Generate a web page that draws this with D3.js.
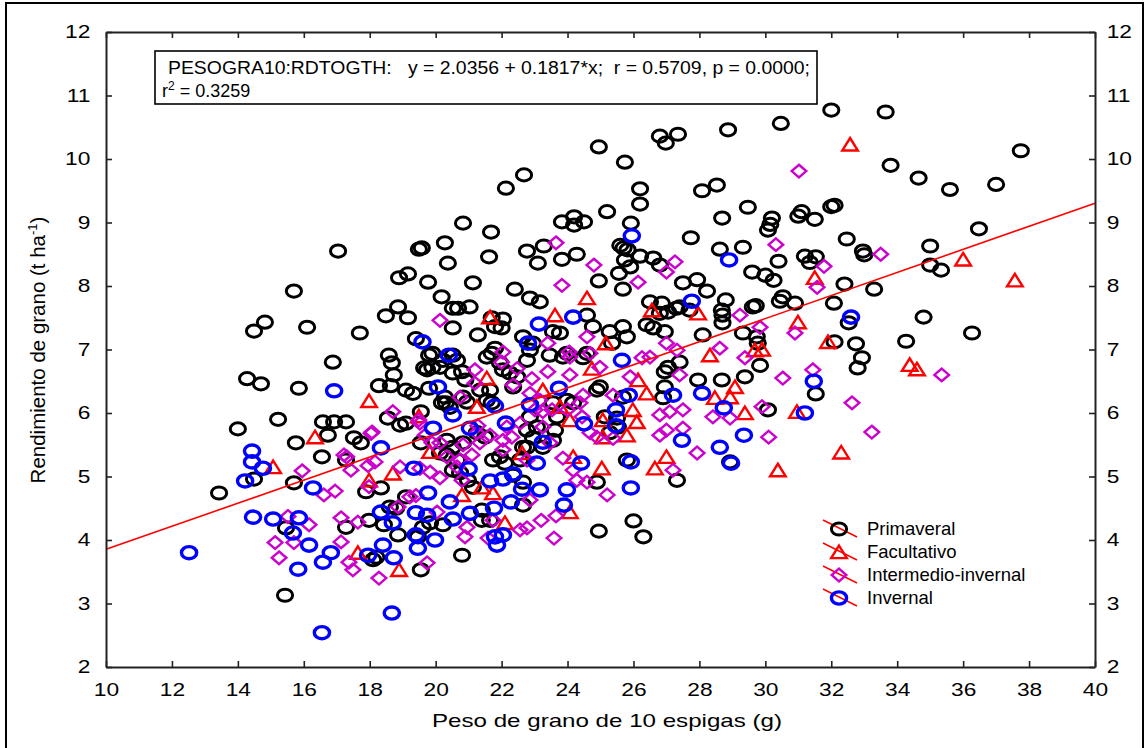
<!DOCTYPE html>
<html><head><meta charset="utf-8">
<script src="https://cdn.jsdelivr.net/npm/d3@7"></script>
<style>
body{margin:0;background:#fff}
svg{display:block}
text{font-family:"Liberation Sans",Arial,sans-serif;fill:#000}
</style>
</head><body>
<svg id="chart" width="1145" height="748"></svg>
<script>
// Peso de grano de 10 espigas (g) vs. rendimiento de grano (t/ha), por tipo de trigo
const primaveral = [
[32.0,10.77],[33.65,10.74],[30.47,10.56],[26.8,10.36],[27.35,10.39],[26.98,10.25],[28.87,10.46],[24.95,10.19],
[25.74,9.95],[37.75,10.13],[22.68,9.75],[22.13,9.54],[26.2,9.53],[26.2,9.29],[28.08,9.5],[28.53,9.59],[29.47,9.24],
[33.8,9.9],[34.65,9.7],[35.6,9.52],[37.0,9.6],[30.2,9.07],[30.15,8.97],[30.08,8.88],[31.0,9.1],[31.1,9.17],[31.5,9.05],
[32.0,9.25],[32.1,9.27],[32.47,8.74],[32.96,8.55],[33.0,8.49],[35.0,8.63],[35.0,8.33],[35.33,8.25],[36.48,8.9],
[31.2,8.47],[31.53,8.46],[31.35,8.37],[30.4,8.39],[29.6,8.22],[30.0,8.17],[30.25,8.09],[32.4,8.03],[33.3,7.95],
[30.53,7.83],[30.44,7.76],[30.9,7.73],[29.71,7.69],[32.08,7.73],[34.8,7.51],[36.27,7.26],[34.27,7.13],[32.53,7.42],
[32.1,7.12],[32.75,7.09],[32.93,6.87],[32.8,6.71],[29.74,7.2],[29.77,7.1],[29.84,6.75],[31.53,6.3],[30.08,6.05],
[20.83,8.99],[21.68,8.85],[20.28,8.68],[19.58,8.6],[23.83,9.01],[24.2,9.09],[24.2,8.96],[24.5,9.01],[25.2,9.17],
[25.92,8.99],[28.69,9.07],[27.74,8.76],[22.77,8.55],[23.28,8.63],[23.1,8.36],[23.83,8.42],[24.28,8.5],[21.62,8.46],
[20.37,8.36],[19.77,8.06],[21.13,8.05],[20.18,7.83],[20.52,7.65],[20.68,7.65],[21.03,7.67],[24.95,8.08],[22.4,7.95],
[22.86,7.81],[23.16,7.75],[25.6,8.64],[25.7,8.6],[25.82,8.57],[26.2,8.47],[26.6,8.44],[25.74,8.41],[25.9,8.3],
[25.56,8.2],[25.68,7.95],[26.8,8.33],[27.5,8.05],[27.93,8.1],[28.23,7.92],[28.62,8.58],[29.32,8.61],[28.8,7.78],
[28.68,7.62],[26.5,7.75],[26.86,7.73],[27.4,7.67],[22.04,7.48],
[17.04,8.55],[19.49,8.58],[18.89,8.13],[19.16,8.19],[15.7,7.92],[14.82,7.43],[14.49,7.29],[16.1,7.35],[17.7,7.26],
[18.49,7.53],[18.86,7.67],[19.16,7.5],[18.58,6.91],[18.67,6.79],[18.73,6.6],[18.28,6.43],[18.64,6.43],[19.1,6.36],
[19.31,6.31],[19.65,6.71],[19.8,6.91],[19.4,7.17],[16.88,6.8],[14.28,6.54],[14.7,6.46],[15.85,6.39],[15.22,5.9],
[16.58,5.86],[16.92,5.86],[17.28,5.86],[14.0,5.75],[18.55,5.92],[19.1,5.84],[19.55,6.02],[19.8,6.39],
[15.76,5.53],[16.55,5.31],[16.73,5.65],[17.52,5.61],[17.73,5.53],[19.55,5.53],[14.49,4.96],[13.43,4.74],[15.7,4.9],
[17.28,5.26],[17.89,4.76],[18.34,4.82],[19.1,4.68],[18.8,4.5],[17.98,4.31],[18.43,4.24],[17.28,4.2],[15.46,4.19],
[18.86,4.08],[18.1,3.69],[18.2,3.73],[19.55,3.53],[15.43,3.13],
[21.7,7.5],[21.8,7.36],[22.0,7.34],[20.52,7.34],[21.28,7.23],[22.65,7.2],[22.95,7.1],[23.56,7.28],[23.77,7.26],
[24.59,7.54],[24.77,7.36],[25.28,7.28],[25.68,7.36],[25.8,7.2],[25.35,7.1],[26.4,7.39],[26.6,7.34],[26.95,7.28],
[26.8,7.57],[27.05,7.59],[27.3,7.65],[27.7,7.62],[28.7,7.54],[28.7,7.42],[28.1,7.23],[29.32,7.26],[29.62,7.67],
[29.38,6.57],[28.68,6.52],[27.96,6.52],[27.4,6.8],[27.05,6.72],[26.95,6.65],[26.95,6.41],[26.9,6.24],[24.47,6.87],
[24.59,6.94],[23.86,6.88],[23.46,6.91],[22.86,6.99],[22.77,6.83],[21.8,7.02],[21.7,6.94],[21.65,6.36],[21.35,6.36],
[22.04,6.68],[22.25,6.63],[22.47,6.57],[20.8,6.65],[20.9,6.52],[20.13,6.72],[19.9,6.72],[19.74,6.68],[20.65,6.83],
[20.22,6.83],[19.9,6.94],[20.28,6.25],[20.19,6.16],[20.43,6.09],[20.83,6.25],[20.95,6.17],[21.55,6.2],[21.7,6.16],
[22.86,5.94],[23.07,5.78],[23.62,5.73],[23.56,5.57],[23.98,6.2],[24.17,6.16],[22.35,6.41],[24.98,6.41],[24.89,6.36],
[25.13,5.94],[25.5,5.92],[25.68,6.25],[25.53,5.78],[25.28,5.69],[22.56,5.26],[21.74,5.26],[21.95,5.31],[22.1,5.21],
[20.13,5.37],[20.34,5.34],[20.65,5.26],[22.65,5.46],[22.77,5.46],[25.8,5.26],[28.93,5.23],[27.32,4.94],[24.89,4.91],
[20.52,5.1],[20.74,5.06],[20.98,4.94],[22.35,5.02],[22.65,4.91],
[20.8,3.76],[24.95,4.14],[26.0,4.3],[26.3,4.05],[22.65,4.55],[21.4,4.47],[21.13,4.83],[20.22,4.24],
[20.52,6.91],[20.52,6.63],[20.31,6.16],[18.92,5.81],[20.34,5.57],[20.52,5.46],[20.83,5.53],[22.77,5.73],[22.95,5.61],
[23.25,5.46],[21.4,4.31],[21.65,4.31],[21.55,6.88],[21.95,6.79],[23.98,6.94],[19.46,4.05],[19.61,4.2],[19.83,4.27],
[18.61,4.52],[23.68,5.94],[23.56,6.16],[21.25,5.69],[21.5,5.62]
];

const facultativo = [
[32.57,10.23],[36.0,8.42],[37.57,8.09],[31.5,8.13],[30.99,7.43],[31.9,7.12],[29.9,7.0],[34.38,6.76],[34.6,6.69],
[30.96,6.02],[32.3,5.38],[30.38,5.1],[24.59,7.81],[26.56,7.62],[27.96,7.57],[21.65,7.51],[23.62,7.54],[25.16,7.1],
[28.32,6.91],[21.55,6.55],[24.74,6.7],[23.25,6.36],[23.77,6.1],[26.14,6.52],[26.4,6.31],[21.25,6.1],[29.08,6.41],
[28.93,6.25],[29.38,6.0],[28.47,6.24],[25.98,6.05],[26.1,5.86],[25.07,5.89],[25.07,5.62],[25.8,5.65],[24.07,5.89],
[19.83,5.39],[22.62,5.37],[24.17,5.31],[25.04,5.13],[26.65,5.13],[27.0,5.31],[21.4,4.83],[21.74,4.74],[29.68,6.99],
[17.98,6.19],[19.49,5.95],[16.34,5.62],[15.07,5.15],[17.98,4.94],[18.7,5.05],[17.64,3.8],[18.89,3.53],[20.8,4.71],
[22.1,4.27],[24.07,4.44]
];

const intermedioInvernal = [
[31.02,9.81],[30.32,8.65],[33.5,8.5],[31.78,8.31],[31.57,7.98],[29.84,7.35],[30.9,7.26],[35.35,6.6],[31.44,6.68],
[30.53,6.55],[32.63,6.16],[29.9,6.1],[33.23,5.7],[30.1,5.62],[23.65,8.68],[24.8,8.33],[23.83,8.01],[26.14,8.06],
[27.0,8.22],[27.26,8.38],[29.23,7.54],[20.13,7.46],[24.59,7.2],[23.4,7.1],[24.05,6.96],[22.04,6.96],[22.0,6.8],
[21.19,6.68],[21.19,6.47],[22.35,6.44],[22.92,6.54],[23.4,6.65],[24.07,6.6],[24.98,6.72],[26.26,6.87],[26.5,6.88],
[27.0,7.1],[27.32,6.99],[28.62,7.02],[29.38,6.87],[27.4,6.6],[25.9,6.57],[25.38,6.28],[24.47,6.28],[24.38,6.16],
[20.74,6.25],[23.16,6.2],[23.25,6.02],[23.53,6.05],[26.8,5.97],[27.1,6.02],[27.5,6.05],[27.5,5.76],[28.41,5.94],
[28.93,5.92],[26.8,5.65],[27.0,5.73],[27.93,5.37],[27.2,5.1],[25.38,5.6],[24.89,5.62],[21.25,5.69],[21.65,5.65],
[22.04,5.57],[20.83,5.5],[21.1,5.34],[19.52,5.84],[19.89,5.53],[20.13,5.53],[19.52,5.13],[19.83,5.07],[20.13,4.98],
[20.8,4.94],[23.86,5.29],[24.17,5.1],[24.28,4.94],[24.59,4.91],[25.2,4.71],[22.77,5.26],[23.2,4.31],[23.65,4.38],
[23.59,4.03],[22.56,4.16],[22.77,4.19],[21.59,4.03],[20.89,4.05],[20.95,4.2],[19.74,3.64],[21.74,4.31],[18.7,6.02],
[19.49,5.89],[18.04,5.68],[17.22,5.34],[17.43,5.1],[15.95,5.09],[17.95,5.17],[16.61,4.71],[16.95,4.77],[17.98,4.84],
[17.13,4.35],[17.64,4.28],[16.16,4.24],[15.13,3.96],[15.7,3.96],[15.25,3.72],[17.13,3.97],[17.37,3.65],[17.49,3.53],
[18.28,3.4],[15.52,4.37],[18.07,5.7],[17.3,5.31],[18.92,5.15],[18.16,5.23],[18.86,4.52],[19.22,4.68],[19.4,4.7],
[22.86,4.63],[20.04,4.44],[20.74,5.26],[21.28,5.8],[20.34,5.31],[20.65,5.15],[19.68,5.65],[21.34,5.53],[22.04,5.42],
[22.16,5.78],[22.56,5.84],[22.31,5.62],[23.01,6.05],[22.86,6.31],[22.47,6.7],[23.25,5.78],[23.47,5.53],[24.0,6.05],
[24.44,5.94],[24.68,5.69],[24.07,6.88],[24.68,6.94]
];

const invernal = [
[25.95,8.79],[28.9,8.41],[27.77,7.76],[24.17,7.51],[23.13,7.4],[22.8,7.1],[20.4,6.91],[19.6,7.12],[25.65,6.83],
[20.07,6.41],[23.74,6.39],[25.86,6.28],[27.2,6.28],[28.08,6.31],[21.8,6.11],[22.86,6.13],[25.47,6.05],[28.74,6.08],
[20.52,5.97],[19.92,5.76],[21.04,5.76],[22.13,5.84],[24.5,5.83],[25.47,5.8],[27.47,5.57],[29.35,5.65],[23.25,5.54],
[28.62,5.46],[25.92,5.23],[28.96,5.21],[24.41,5.21],[23.07,5.21],[21.0,5.12],[22.35,5.04],[22.04,4.96],[21.65,4.93],
[22.62,4.8],[23.16,4.79],[23.98,4.79],[25.92,4.82],[19.77,4.74],[20.43,4.6],[19.74,4.39],[21.04,4.42],[20.52,4.33],
[19.98,4.0],[21.77,4.5],[22.28,4.6],[23.89,4.55],[22.04,4.08],[21.86,3.92],[32.6,7.51],[31.47,6.5],[31.2,6.0],
[16.92,6.35],[14.43,5.4],[14.43,5.23],[14.76,5.13],[14.22,4.93],[16.28,4.82],[14.46,4.36],[15.07,4.33],[15.85,4.35],
[15.67,4.11],[16.16,3.92],[16.82,3.8],[16.58,3.65],[15.83,3.54],[12.52,3.8],[16.55,2.54],[18.67,2.85],[17.95,3.76],
[18.4,3.92],[18.73,3.72],[18.34,5.45],[19.34,5.13],[18.34,4.44],[18.7,4.27],[19.4,4.43],[19.4,4.08],[19.46,3.87],
[21.8,4.05]
];

const seriesNames = ["Primaveral","Facultativo","Intermedio-invernal","Invernal"];
const xTickValues = [10,12,14,16,18,20,22,24,26,28,30,32,34,36,38,40];
const yTickValues = [2,3,4,5,6,7,8,9,10,11,12];
const fit = {intercept: 2.0356, slope: 0.1817, r: 0.5709, p: 0.0000, r2: 0.3259};

const svg = d3.select("#chart");
const plot = {left:106, right:1095, top:32, bottom:667};
const x = d3.scaleLinear().domain([10,40]).range([plot.left, plot.right]);
const y = d3.scaleLinear().domain([2,12]).range([plot.bottom, plot.top]);

// outer frame
svg.append("rect").attr("x",6).attr("y",3).attr("width",1137).attr("height",780)
  .attr("fill","none").attr("stroke","#000").attr("stroke-width",2);

// marker shapes
const triPath = "M0,-6.4L7.8,6.1L-7.8,6.1Z";
const diaPath = "M0,-6.3L7.3,0L0,6.3L-7.3,0Z";
const styles = [
  {data: primaveral, kind: "ellipse", color: "#000000", sw: 3},
  {data: facultativo, kind: "path", d: triPath, color: "#ff0000", sw: 2.4},
  {data: intermedioInvernal, kind: "path", d: diaPath, color: "#cc00cc", sw: 2.4},
  {data: invernal, kind: "ellipse", color: "#0000ff", sw: 3.4}
];

function drawMarker(sel, st) {
  if (st.kind === "ellipse") {
    sel.append("ellipse").attr("rx",7.6).attr("ry",6.1)
      .attr("fill","none").attr("stroke",st.color).attr("stroke-width",st.sw);
  } else {
    sel.append("path").attr("d",st.d)
      .attr("fill","none").attr("stroke",st.color).attr("stroke-width",st.sw)
      .attr("stroke-linejoin","miter");
  }
}

const pts = svg.append("g");
styles.forEach(st => {
  const g = pts.append("g");
  g.selectAll("g.pt").data(st.data).join("g").attr("class","pt")
    .attr("transform", d => `translate(${x(d[0])},${y(d[1])})`)
    .each(function(){ drawMarker(d3.select(this), st); });
});

// regression line
const line = d3.line().x(d => x(d)).y(d => y(fit.intercept + fit.slope*d));
svg.append("path").attr("d", line(x.domain())).attr("fill","none")
  .attr("stroke","#ff0000").attr("stroke-width",1.6);

// axes: ticks point inward on all four sides
const axisColor = "#222";
function styleAxis(g) {
  g.select(".domain").attr("stroke",axisColor).attr("stroke-width",2);
  g.selectAll(".tick line").attr("stroke",axisColor).attr("stroke-width",1.6);
  g.selectAll("text").attr("font-size",17.5).attr("fill","#000")
    .style("font-family",'"Liberation Sans",Arial,sans-serif');
}
const gx = svg.append("g").attr("transform",`translate(0,${plot.bottom})`)
  .call(d3.axisBottom(x).tickValues(xTickValues).tickSizeInner(-6).tickSizeOuter(0).tickPadding(17).tickFormat(d3.format("d")));
styleAxis(gx);
gx.selectAll("text").attr("transform","scale(1.3,1)");
const gt = svg.append("g").attr("transform",`translate(0,${plot.top})`)
  .call(d3.axisTop(x).tickValues(xTickValues).tickSizeInner(-6).tickSizeOuter(0).tickFormat(""));
styleAxis(gt);
const gl = svg.append("g").attr("transform",`translate(${plot.left},0)`)
  .call(d3.axisLeft(y).tickValues(yTickValues).tickSizeInner(-6).tickSizeOuter(0).tickPadding(12).tickFormat(d3.format("d")));
styleAxis(gl);
gl.selectAll("text").attr("transform","scale(1.3,1)");
const gr = svg.append("g").attr("transform",`translate(${plot.right},0)`)
  .call(d3.axisRight(y).tickValues(yTickValues).tickSizeInner(-6).tickSizeOuter(0).tickPadding(9).tickFormat(d3.format("d")));
styleAxis(gr);
gr.selectAll("text").attr("transform","scale(1.3,1)");

// axis titles
svg.append("text").attr("x",607).attr("y",727).attr("text-anchor","middle")
  .attr("font-size",19).attr("textLength",350).attr("lengthAdjust","spacingAndGlyphs")
  .text("Peso de grano de 10 espigas (g)");
const yt = svg.append("text").attr("transform","translate(45,350) rotate(-90)")
  .attr("text-anchor","middle").attr("font-size",20.5);
yt.append("tspan").text("Rendimiento de grano (t ha");
yt.append("tspan").attr("font-size",13).attr("dy",-8).text("-1");
yt.append("tspan").attr("dy",8).text(")");

// regression annotation
svg.append("rect").attr("x",155).attr("y",51).attr("width",662).attr("height",53)
  .attr("fill","#fff").attr("stroke","#000").attr("stroke-width",1.6);
svg.append("text").attr("x",168).attr("y",74).attr("font-size",18)
  .attr("textLength",642).attr("lengthAdjust","spacingAndGlyphs").attr("xml:space","preserve")
  .text(`PESOGRA10:RDTOGTH:   y = ${fit.intercept.toFixed(4)} + ${fit.slope.toFixed(4)}*x;  r = ${fit.r.toFixed(4)}, p = ${fit.p.toFixed(4)};`);
const r2t = svg.append("text").attr("x",162).attr("y",97).attr("font-size",18);
r2t.append("tspan").text("r");
r2t.append("tspan").attr("font-size",12).attr("dy",-7).text("2");
r2t.append("tspan").attr("dy",7).text(` = ${fit.r2.toFixed(4)}`);

// legend
const legend = svg.append("g");
seriesNames.forEach((name, i) => {
  const cy = 529 + i*23;
  const row = legend.append("g");
  row.append("line").attr("x1",823).attr("y1",cy-9).attr("x2",857).attr("y2",cy+8)
    .attr("stroke","#ff0000").attr("stroke-width",1.5);
  const m = row.append("g").attr("transform",`translate(839,${cy})`);
  drawMarker(m, styles[i]);
  row.append("text").attr("x",867).attr("y",cy+6).attr("font-size",18.5).text(name);
});
</script>
</body></html>
